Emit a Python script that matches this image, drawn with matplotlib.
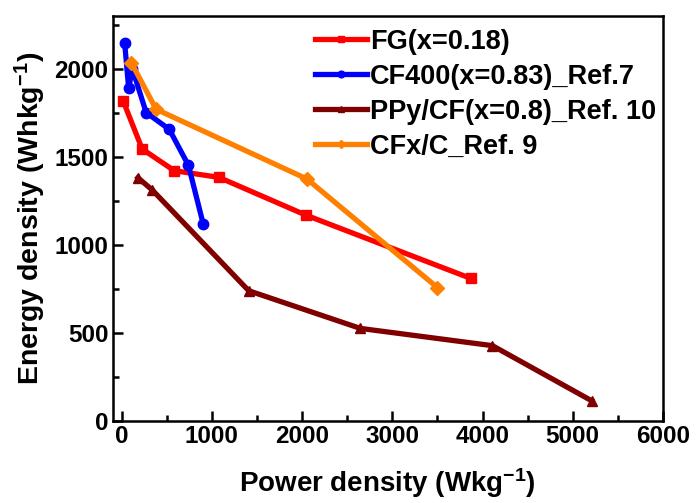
import matplotlib.pyplot as plt
from matplotlib.ticker import MultipleLocator

plt.rcParams['font.family'] = ['Liberation Sans', 'DejaVu Sans']
plt.rcParams['font.weight'] = 'bold'
plt.rcParams['mathtext.fontset'] = 'custom'
plt.rcParams['mathtext.rm'] = 'Liberation Sans:bold'
plt.rcParams['mathtext.bf'] = 'Liberation Sans:bold'
plt.rcParams['mathtext.default'] = 'rm'

# FG(x=0.18)
fg_x = [15, 227, 582, 1077, 2044, 3870]
fg_y = [1819, 1545, 1422, 1384, 1169, 810]
# CF400(x=0.83)_Ref.7
cf_x = [33, 77, 118, 271, 527, 740, 903]
cf_y = [2145, 1890, 2000, 1752, 1657, 1452, 1120]
# PPy/CF(x=0.8)_Ref. 10
ppy_x = [179, 339, 1408, 2646, 4110, 5210]
ppy_y = [1382, 1312, 740, 526, 428, 115]
# CFx/C_Ref. 9
cfx_x = [106, 381, 2053, 3500]
cfx_y = [2036, 1771, 1375, 758]

fig = plt.figure(figsize=(7.00, 5.03), dpi=100)
ax = fig.add_axes([0.161, 0.163, 0.786, 0.805])

lw = 3.8
ms = 7.5
ax.plot(fg_x, fg_y, '-s', color='#ff0000', lw=lw, ms=ms, label='FG(x=0.18)')
ax.plot(cf_x, cf_y, '-o', color='#0000ff', lw=lw, ms=ms, label='CF400(x=0.83)_Ref.7')
ax.plot(ppy_x, ppy_y, '-^', color='#800000', lw=lw, ms=ms, label='PPy/CF(x=0.8)_Ref. 10')
ax.plot(cfx_x, cfx_y, '-D', color='#ff8000', lw=lw, ms=ms * 0.9, label='CFx/C_Ref. 9')

ax.set_xlim(-100, 6000)
ax.set_ylim(0, 2300)
ax.xaxis.set_major_locator(MultipleLocator(1000))
ax.xaxis.set_minor_locator(MultipleLocator(500))
ax.yaxis.set_major_locator(MultipleLocator(500))
ax.yaxis.set_minor_locator(MultipleLocator(250))
ax.tick_params(which='both', direction='in', width=1.8, labelsize=17.5, pad=3)
ax.tick_params(which='major', length=7)
ax.tick_params(which='minor', length=4.5)
for s in ax.spines.values():
    s.set_linewidth(1.8)

ax.set_xlabel(r'Power density (Wkg$^{-1}$)', fontsize=20, fontweight='bold', labelpad=13)
ax.set_ylabel(r'Energy density (Whkg$^{-1}$)', fontsize=20.5, fontweight='bold', labelpad=5)

ax.legend(loc='upper right', frameon=False, fontsize=19.5, markerscale=0.65,
          handlelength=1.9, handletextpad=0.12, labelspacing=0.33,
          borderaxespad=0.0, borderpad=0.25, bbox_to_anchor=(1.0, 0.985))

fig.savefig('out.png', dpi=100)
